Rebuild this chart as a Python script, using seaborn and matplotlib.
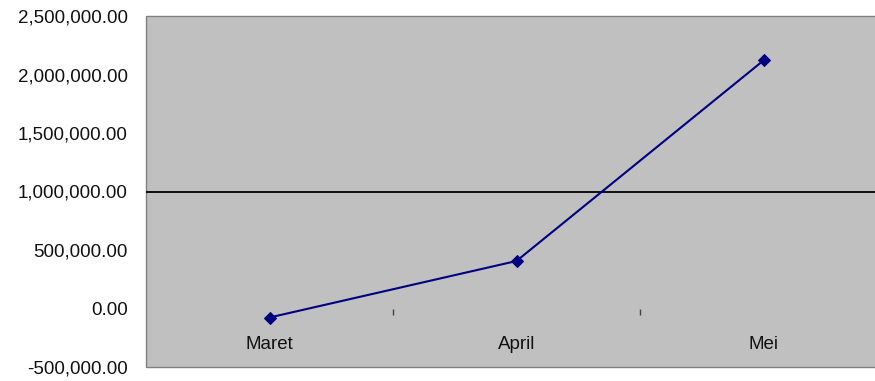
import matplotlib
matplotlib.use("Agg")
import matplotlib.pyplot as plt
from matplotlib.ticker import FuncFormatter, FixedLocator
import seaborn as sns
import pandas as pd

# ---- data ----
months = ["Maret", "April", "Mei"]
values = [-77000, 406000, 2120000]
reference_line = 1000000
y_ticks = [-500000, 0, 500000, 1000000, 1500000, 2000000, 2500000]

df = pd.DataFrame({"Bulan": months, "Nilai": values})

sns.set_style("white")
plt.rcParams["font.family"] = ["Liberation Sans", "DejaVu Sans"]

fig = plt.figure(figsize=(8.75, 3.81), dpi=100)
ax = fig.add_axes([146 / 875, 1 - 367 / 381, (887 - 146) / 875, (367 - 16) / 381])
ax.set_facecolor("#C0C0C0")
ax.patch.set_edgecolor("#808080")
ax.patch.set_linewidth(1.0)

sns.lineplot(data=df, x="Bulan", y="Nilai", ax=ax, sort=False,
             color="#000080", linewidth=1.5, marker="D", markersize=6,
             markeredgecolor="#000080", markerfacecolor="#000080")

ax.axhline(reference_line, color="black", linewidth=1.3, zorder=1)

ax.set_xlim(-0.5, 2.5)
ax.set_ylim(y_ticks[0], y_ticks[-1])
ax.set_xlabel("")
ax.set_ylabel("")

for s in ["left", "top", "right"]:
    ax.spines[s].set_visible(False)
ax.spines["bottom"].set_position(("data", 0))
ax.spines["bottom"].set_color("none")

ax.set_yticks(y_ticks)
ax.yaxis.set_major_formatter(FuncFormatter(lambda v, p: f"{v:,.2f}"))
ax.yaxis.set_minor_locator(FixedLocator([0, reference_line]))
ax.tick_params(axis="y", which="major", length=0, pad=13, labelsize=13.5, labelcolor="#111111")
ax.tick_params(axis="y", which="minor", length=3.8, width=1.0, color="black", direction="out", left=True)

ax.set_xticks([0, 1, 2])
ax.set_xticklabels(months)
ax.xaxis.set_minor_locator(FixedLocator([0.5, 1.5]))
ax.tick_params(axis="x", which="major", length=0, pad=20, labelsize=13.5, labelcolor="#111111")
ax.tick_params(axis="x", which="minor", length=4, width=1.0, color="#444444", direction="out", bottom=True)

ax.grid(False)
fig.savefig("out.png", dpi=100)
